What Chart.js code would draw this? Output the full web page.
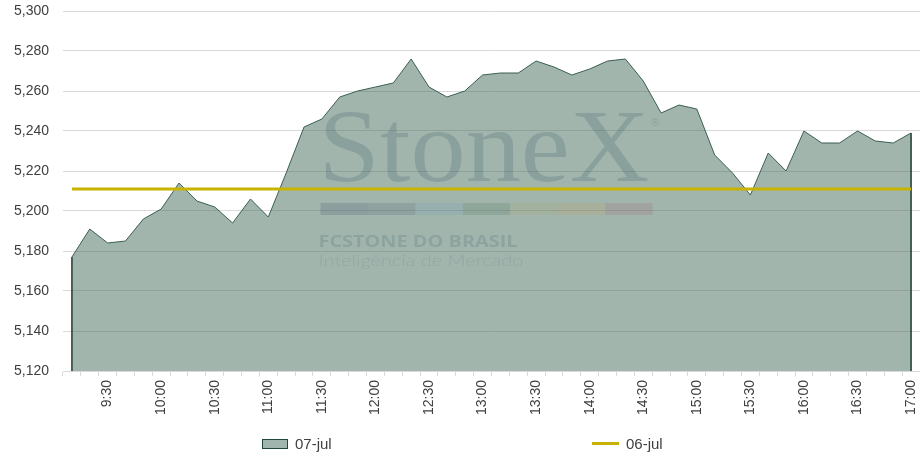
<!DOCTYPE html>
<html lang="pt-BR">
<head>
<meta charset="utf-8">
<title>Dólar intradiário 07-jul x 06-jul</title>
<script src="https://cdn.jsdelivr.net/npm/chart.js@4.4.1/dist/chart.umd.min.js"></script>
<style>
    html, body { margin: 0; padding: 0; background: #fff; }
    #wrap { position: relative; width: 920px; height: 460px; }
    #chart { position: absolute; left: 0; top: 0; }
    .leg { position: absolute; font: 15px "Liberation Sans", Arial, sans-serif; color: #404040; line-height: 15px; }
    .leg-box { position: absolute; width: 24px; height: 8px; background: #a0b5ad; border: 1px solid #1f4a3a; }
    .leg-line { position: absolute; width: 27px; height: 3px; background: #c8b400; }
</style>
</head>
<body>
<div id="wrap">
    <canvas id="chart" width="920" height="460"></canvas>
    <div class="leg-box" style="left:262px; top:439px;"></div>
    <div class="leg" style="left:295px; top:436px;">07-jul</div>
    <div class="leg-line" style="left:592px; top:442px;"></div>
    <div class="leg" style="left:626px; top:436px;">06-jul</div>
</div>
<script>
// Horários (intervalos de 10 minutos)
const times = [
    '9:10', '9:20', '9:30', '9:40', '9:50', '10:00',
    '10:10', '10:20', '10:30', '10:40', '10:50', '11:00',
    '11:10', '11:20', '11:30', '11:40', '11:50', '12:00',
    '12:10', '12:20', '12:30', '12:40', '12:50', '13:00',
    '13:10', '13:20', '13:30', '13:40', '13:50', '14:00',
    '14:10', '14:20', '14:30', '14:40', '14:50', '15:00',
    '15:10', '15:20', '15:30', '15:40', '15:50', '16:00',
    '16:10', '16:20', '16:30', '16:40', '16:50', '17:00'
];

// Cotação do dia 07-jul
const jul07 = [
    5.177, 5.191, 5.184, 5.185, 5.196, 5.201,
    5.214, 5.205, 5.202, 5.194, 5.206, 5.197,
    5.219, 5.242, 5.246, 5.257, 5.260, 5.262,
    5.264, 5.276, 5.262, 5.257, 5.260, 5.268,
    5.269, 5.269, 5.275, 5.272, 5.268, 5.271,
    5.275, 5.276, 5.265, 5.249, 5.253, 5.251,
    5.228, 5.219, 5.208, 5.229, 5.220, 5.240,
    5.234, 5.234, 5.240, 5.235, 5.234, 5.239
];

// Fechamento do dia 06-jul
const jul06 = [
    5.211, 5.211, 5.211, 5.211, 5.211, 5.211,
    5.211, 5.211, 5.211, 5.211, 5.211, 5.211,
    5.211, 5.211, 5.211, 5.211, 5.211, 5.211,
    5.211, 5.211, 5.211, 5.211, 5.211, 5.211,
    5.211, 5.211, 5.211, 5.211, 5.211, 5.211,
    5.211, 5.211, 5.211, 5.211, 5.211, 5.211,
    5.211, 5.211, 5.211, 5.211, 5.211, 5.211,
    5.211, 5.211, 5.211, 5.211, 5.211, 5.211
];

// Eixo Y
const yMin = 5.12;
const yMax = 5.30;
const yStep = 0.02;

// Cores da marca d'água
const brandBar = [
    'rgba(55, 65, 89, 0.19)',
    'rgba(70, 86, 106, 0.19)',
    'rgba(118, 155, 189, 0.19)',
    'rgba(65, 112, 73, 0.19)',
    'rgba(175, 170, 100, 0.19)',
    'rgba(202, 160, 78, 0.19)',
    'rgba(160, 92, 100, 0.19)'
];

function fitText(ctx, text, x, y, width) {
    const w = ctx.measureText(text).width;
    ctx.save();
    ctx.translate(x, y);
    ctx.scale(width / w, 1);
    ctx.fillText(text, 0, 0);
    ctx.restore();
}

// Marca d'água + bordas verticais da área
const areaExtras = {
    id: 'areaExtras',
    afterDatasetDraw(chart, args) {
        if (args.index !== 0) return;
        const ctx = chart.ctx;
        const area = chart.chartArea;
        const cx = (area.left + area.right) / 2 - 6;
        const cy = (area.top + area.bottom) / 2;

        ctx.save();
        ctx.textBaseline = 'alphabetic';
        ctx.fillStyle = 'rgba(44, 76, 89, 0.19)';
        ctx.font = '103px "Liberation Serif", "DejaVu Serif", serif';
        fitText(ctx, 'StoneX', cx - 167, cy - 10, 331);
        ctx.font = '10px "Liberation Sans", sans-serif';
        ctx.fillText('®', cx + 166, cy - 65);

        const segW = 332 / brandBar.length;
        brandBar.forEach((c, i) => {
            ctx.fillStyle = c;
            ctx.fillRect(cx - 165 + i * segW, cy + 12, segW, 12);
        });

        ctx.fillStyle = 'rgba(44, 76, 89, 0.17)';
        ctx.font = 'bold 16px "Open Sans", "DejaVu Sans", sans-serif';
        fitText(ctx, 'FCSTONE DO BRASIL', cx - 167, cy + 56, 199);
        ctx.fillStyle = 'rgba(44, 76, 89, 0.13)';
        ctx.font = '300 16px Lato, "Open Sans", sans-serif';
        fitText(ctx, 'Inteligência de Mercado', cx - 167, cy + 75, 205);
        ctx.restore();

        const meta = chart.getDatasetMeta(0);
        const first = meta.data[0];
        const last = meta.data[meta.data.length - 1];
        const bottom = chart.scales.y.bottom;
        ctx.save();
        ctx.strokeStyle = '#1f3d32';
        ctx.lineWidth = 1.5;
        ctx.beginPath();
        ctx.moveTo(first.x, first.y);
        ctx.lineTo(first.x, bottom);
        ctx.moveTo(last.x, last.y);
        ctx.lineTo(last.x, bottom);
        ctx.stroke();
        ctx.restore();
    }
};

const tickFont = { family: '"Liberation Sans", Arial, sans-serif', size: 14 };

new Chart(document.getElementById('chart').getContext('2d'), {
    type: 'line',
    data: {
        labels: times,
        datasets: [
            {
                label: '07-jul',
                data: jul07,
                order: 2,
                fill: 'start',
                backgroundColor: 'rgba(67, 107, 92, 0.5)',
                borderColor: '#3a5f52',
                borderWidth: 1,
                pointRadius: 0,
                tension: 0
            },
            {
                label: '06-jul',
                data: jul06,
                order: 1,
                fill: false,
                borderColor: '#c8b400',
                borderWidth: 3,
                borderCapStyle: 'butt',
                pointRadius: 0
            }
        ]
    },
    options: {
        responsive: false,
        animation: false,
        layout: { padding: { top: 11, left: 0, right: 0, bottom: 0 } },
        plugins: {
            legend: { display: false },
            tooltip: { enabled: false }
        },
        scales: {
            x: {
                type: 'category',
                offset: true,
                grid: {
                    offset: true,
                    drawOnChartArea: false,
                    drawTicks: true,
                    tickLength: 5,
                    color: '#d9d9d9'
                },
                border: { display: true, color: '#d9d9d9' },
                ticks: {
                    autoSkip: false,
                    maxRotation: 90,
                    minRotation: 90,
                    padding: 4,
                    color: '#404040',
                    font: tickFont,
                    callback: function (value) {
                        const t = this.getLabelForValue(value);
                        return (t.endsWith(':00') || t.endsWith(':30')) ? t : '';
                    }
                },
                afterFit(scale) {
                    scale.height = 89;
                    scale.paddingLeft = 0;
                    scale.paddingRight = 0;
                }
            },
            y: {
                min: yMin,
                max: yMax,
                grid: { color: '#d9d9d9', drawTicks: false },
                border: { display: false },
                ticks: {
                    stepSize: yStep,
                    padding: 14,
                    color: '#404040',
                    font: tickFont,
                    callback: (v) => v.toFixed(3).replace('.', ',')
                },
                afterFit(scale) {
                    scale.width = 63;
                    scale.paddingTop = 0;
                    scale.paddingBottom = 0;
                }
            }
        }
    },
    plugins: [areaExtras]
});
</script>
</body>
</html>
